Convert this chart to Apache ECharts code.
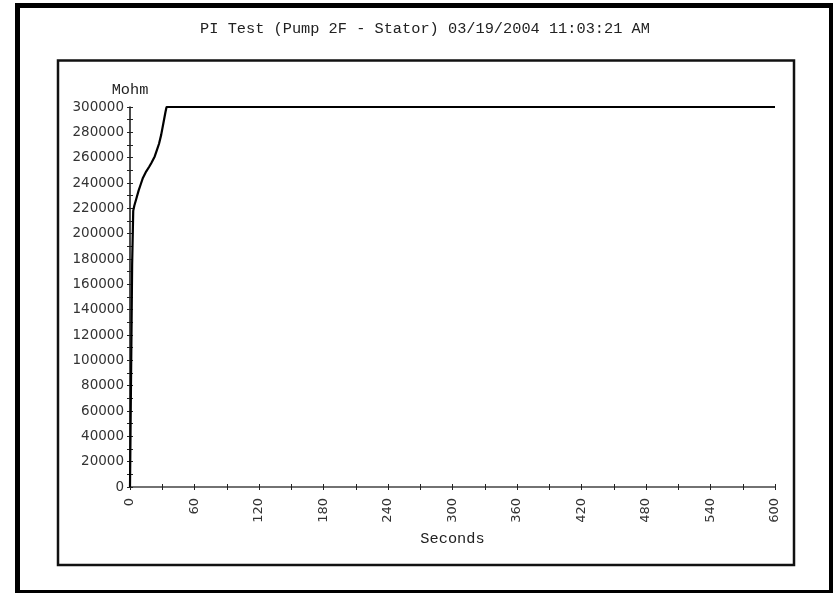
<!DOCTYPE html>
<html>
<head>
<meta charset="utf-8">
<script src="https://cdn.jsdelivr.net/npm/echarts@6/dist/echarts.min.js"></script>
<style>
  html, body { margin: 0; padding: 0; background: #fff; }
  #chart { width: 836px; height: 593px; }
</style>
</head>
<body>
<div id="chart"></div>
<script>
// Insulation resistance readings during the polarization index test
const seconds = [0, 0.5, 1, 1.5, 2, 3, 4, 6, 8, 10, 12, 15, 18, 20, 23, 25, 27, 29, 31, 33, 34,
  60, 90, 120, 150, 180, 210, 240, 270, 300, 330, 360, 390, 420, 450, 480, 510, 540, 570, 600];
const mohm = [0, 44000, 88000, 131000, 176000, 218000, 222000, 228000, 234000, 239000, 244000,
  249000, 253000, 256000, 261000, 266000, 271000, 278000, 287000, 296000, 300000,
  300000, 300000, 300000, 300000, 300000, 300000, 300000, 300000, 300000, 300000, 300000,
  300000, 300000, 300000, 300000, 300000, 300000, 300000, 300000];

const titleText = 'PI Test (Pump 2F - Stator) 03/19/2004 11:03:21 AM';
const yAxisName = 'Mohm';
const xAxisName = 'Seconds';
const xTickStep = 30, xLabelStep = 60, xMax = 600;
const yTickStep = 10000, yLabelStep = 20000, yMax = 300000;

const mono = '"Liberation Mono", "Courier New", monospace';
const sans = '"DejaVu Sans", Verdana, sans-serif';

const chart = echarts.init(document.getElementById('chart'), null, { renderer: 'canvas' });

const points = seconds.map((s, i) => [s, mohm[i]]);

chart.setOption({
  backgroundColor: '#ffffff',
  animation: false,
  graphic: [
    // outer frame
    { type: 'rect', z: -10, shape: { x: 15, y: 3, width: 818, height: 5 }, style: { fill: '#000' } },
    { type: 'rect', z: -10, shape: { x: 15, y: 3, width: 5, height: 590 }, style: { fill: '#000' } },
    { type: 'rect', z: -10, shape: { x: 829, y: 3, width: 4, height: 590 }, style: { fill: '#000' } },
    { type: 'rect', z: -10, shape: { x: 15, y: 590, width: 818, height: 3 }, style: { fill: '#000' } },
    // plot frame
    { type: 'rect', z: -10, shape: { x: 58, y: 60.5, width: 736, height: 504.5 },
      style: { fill: 'none', stroke: '#111', lineWidth: 2.5 } },
    // heading
    { type: 'text', z: 10, x: 425, y: 29,
      style: { text: titleText, font: '15.3px ' + mono, fill: '#222',
               textAlign: 'center', textVerticalAlign: 'middle' } }
  ],
  grid: { left: 130, right: 61, top: 107, bottom: 106, containLabel: false },
  xAxis: [
    {
      type: 'value', min: 0, max: xMax, interval: xTickStep, position: 'bottom',
      name: xAxisName, nameLocation: 'middle', nameGap: 44,
      nameTextStyle: { fontFamily: mono, fontSize: 15.3, color: '#222' },
      axisLine: { onZero: false, lineStyle: { color: '#444', width: 1.5 } },
      axisTick: { show: true, length: 3, lineStyle: { color: '#222', width: 1 } },
      axisLabel: {
        rotate: 90, margin: 11, fontFamily: sans, fontSize: 13, color: '#333',
        showMinLabel: true, showMaxLabel: true,
        formatter: v => (v % xLabelStep === 0 ? String(v) : '')
      },
      splitLine: { show: false }
    },
    {
      type: 'value', min: 0, max: xMax, interval: xTickStep, position: 'bottom',
      axisLine: { show: false, onZero: false },
      axisTick: { show: true, inside: true, length: 3, lineStyle: { color: '#222', width: 1 } },
      axisLabel: { show: false },
      splitLine: { show: false }
    }
  ],
  yAxis: [
    {
      type: 'value', min: 0, max: yMax, interval: yTickStep, position: 'left',
      name: yAxisName, nameLocation: 'end', nameGap: 10,
      nameTextStyle: { fontFamily: mono, fontSize: 15.3, color: '#222', align: 'center' },
      axisLine: { show: true, onZero: false, lineStyle: { color: '#111', width: 1.5 } },
      axisTick: { show: true, length: 3, lineStyle: { color: '#222', width: 1 } },
      axisLabel: {
        margin: 6, fontFamily: sans, fontSize: 13.5, color: '#333',
        showMinLabel: true, showMaxLabel: true,
        formatter: v => (v % yLabelStep === 0 ? String(v) : '')
      },
      splitLine: { show: false }
    },
    {
      type: 'value', min: 0, max: yMax, interval: yTickStep, position: 'left',
      axisLine: { show: false, onZero: false },
      axisTick: { show: true, inside: true, length: 3, lineStyle: { color: '#222', width: 1 } },
      axisLabel: { show: false },
      splitLine: { show: false }
    }
  ],
  series: [{
    type: 'line',
    xAxisIndex: 0, yAxisIndex: 0,
    data: points,
    showSymbol: false,
    symbol: 'none',
    lineStyle: { color: '#000', width: 2.2 },
    z: 5
  }]
});
</script>
</body>
</html>
